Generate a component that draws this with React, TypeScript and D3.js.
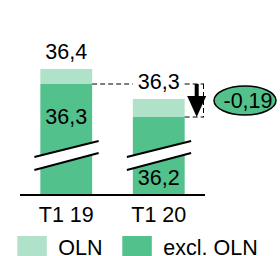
import React, { useEffect, useRef } from 'react'
import * as d3 from 'd3'

const categories = ['T1 19', 'T1 20']
const totalValues = [36.4, 36.3]
const exclValues = [36.35, 36.24]
const totalLabels = ['36,4', '36,3']
const exclLabels = ['36,3', '36,2']
const deltaLabel = '-0,19'
const legendLabels = ['OLN', 'excl. OLN']

const colors = ['#b0e2c9', '#52c18b']

const Chart: React.FC = () => {
  const svgRef = useRef<SVGSVGElement | null>(null)

  useEffect(() => {
    if (!svgRef.current) return
    const svg = d3.select(svgRef.current)
    svg.selectAll('*').remove()

    const baseY = 195
    const font = '"Liberation Sans", Arial, sans-serif'
    const fontSize = 21.5

    const x = d3
      .scaleBand()
      .domain(categories)
      .range([20, 205])
      .paddingInner(0.44)
      .paddingOuter(0.22)
    const y = d3.scaleLinear().domain([35.98, 36.4]).range([baseY, 69])

    const bw = x.bandwidth()

    // bars: excl (dark) at the bottom, OLN (light) on top
    categories.forEach((c, i) => {
      const x0 = x(c)!
      svg
        .append('rect')
        .attr('x', x0)
        .attr('y', y(exclValues[i]))
        .attr('width', bw)
        .attr('height', baseY - y(exclValues[i]))
        .attr('fill', colors[1])
      svg
        .append('rect')
        .attr('x', x0)
        .attr('y', y(totalValues[i]))
        .attr('width', bw)
        .attr('height', y(exclValues[i]) - y(totalValues[i]))
        .attr('fill', colors[0])
    })

    // axis break marks
    const brk = { l1: 157, r1: 141, l2: 170, r2: 153 }
    categories.forEach((c) => {
      const xl = x(c)! - 6
      const xr = x(c)! + bw + 6.5
      svg
        .append('path')
        .attr('d', `M${xl},${brk.l1}L${xr},${brk.r1}L${xr},${brk.r2}L${xl},${brk.l2}Z`)
        .attr('fill', '#fff')
      ;[
        [brk.l1, brk.r1],
        [brk.l2, brk.r2],
      ].forEach(([a, b]) => {
        svg
          .append('line')
          .attr('x1', xl)
          .attr('y1', a)
          .attr('x2', xr)
          .attr('y2', b)
          .attr('stroke', '#000')
          .attr('stroke-width', 2)
      })
    })

    // baseline
    svg
      .append('line')
      .attr('x1', 20)
      .attr('x2', 205)
      .attr('y1', baseY)
      .attr('y2', baseY)
      .attr('stroke', '#000')
      .attr('stroke-width', 2)

    // value labels
    categories.forEach((c, i) => {
      const cx = x(c)! + bw / 2
      svg
        .append('text')
        .attr('x', cx)
        .attr('y', y(totalValues[i]) - 10)
        .attr('text-anchor', 'middle')
        .style('font', `${fontSize}px ${font}`)
        .text(totalLabels[i])

      const top = y(exclValues[i])
      const brkMid = (brk.l1 + brk.r1) / 2
      const room = brkMid - top
      const ly = room > 40 ? (top + brkMid) / 2 + 7.5 : ((brk.l2 + brk.r2) / 2 + baseY) / 2 + 7
      svg
        .append('text')
        .attr('x', cx)
        .attr('y', ly)
        .attr('text-anchor', 'middle')
        .style('font', `${fontSize}px ${font}`)
        .text(exclLabels[i])
    })

    // dashed reference lines
    const xEnd = 204
    const x1r = x(categories[0])! + bw
    const x2l = x(categories[1])!
    const x2r = x2l + bw
    const yA = y(exclValues[0])
    const yB = y(exclValues[1])
    const dashed = (xa: number, ya: number, xb: number, yb: number) =>
      svg
        .append('line')
        .attr('x1', xa)
        .attr('y1', ya)
        .attr('x2', xb)
        .attr('y2', yb)
        .attr('stroke', '#000')
        .attr('stroke-width', 1)
        .attr('stroke-dasharray', '5,3')
    dashed(x1r, yA, x2l, yA)
    dashed(x2r, yA, xEnd, yA)
    dashed(x2r, yB, xEnd, yB)
    dashed(xEnd - 0.5, yA, xEnd - 0.5, yB)

    // arrow
    const ax = 196.7
    const headTop = yB - 21
    svg
      .append('rect')
      .attr('x', ax - 2)
      .attr('y', yA)
      .attr('width', 4)
      .attr('height', headTop - yA + 1)
      .attr('fill', '#000')
    svg
      .append('path')
      .attr('d', `M${ax - 9.5},${headTop}L${ax + 9.5},${headTop}L${ax},${yB}Z`)
      .attr('fill', '#000')

    // delta bubble
    const ex = 245
    const ey = (yA + yB) / 2
    svg
      .append('ellipse')
      .attr('cx', ex)
      .attr('cy', ey)
      .attr('rx', 31)
      .attr('ry', 14.5)
      .attr('fill', colors[1])
      .attr('stroke', '#000')
      .attr('stroke-width', 1.5)
    svg
      .append('text')
      .attr('x', ex + 3)
      .attr('y', ey + 7.5)
      .attr('text-anchor', 'middle')
      .style('font', `${fontSize}px ${font}`)
      .text(deltaLabel)

    // category labels
    categories.forEach((c) => {
      svg
        .append('text')
        .attr('x', x(c)! + bw / 2)
        .attr('y', 222)
        .attr('text-anchor', 'middle')
        .style('font', `${fontSize}px ${font}`)
        .text(c)
    })

    // legend
    const legendX = [17.3, 122.3]
    legendLabels.forEach((l, i) => {
      svg
        .append('rect')
        .attr('x', legendX[i])
        .attr('y', 236)
        .attr('width', 29.5)
        .attr('height', 22)
        .attr('fill', colors[i])
      svg
        .append('text')
        .attr('x', legendX[i] + 41)
        .attr('y', 254.5)
        .style('font', `${fontSize}px ${font}`)
        .text(l)
    })
  }, [])

  return (
    <svg
      ref={svgRef}
      width={280}
      height={256}
      style={{ position: 'absolute', left: 0, top: 0, background: '#fff' }}
    ></svg>
  )
}

export default function App() {
  return <Chart />
}
